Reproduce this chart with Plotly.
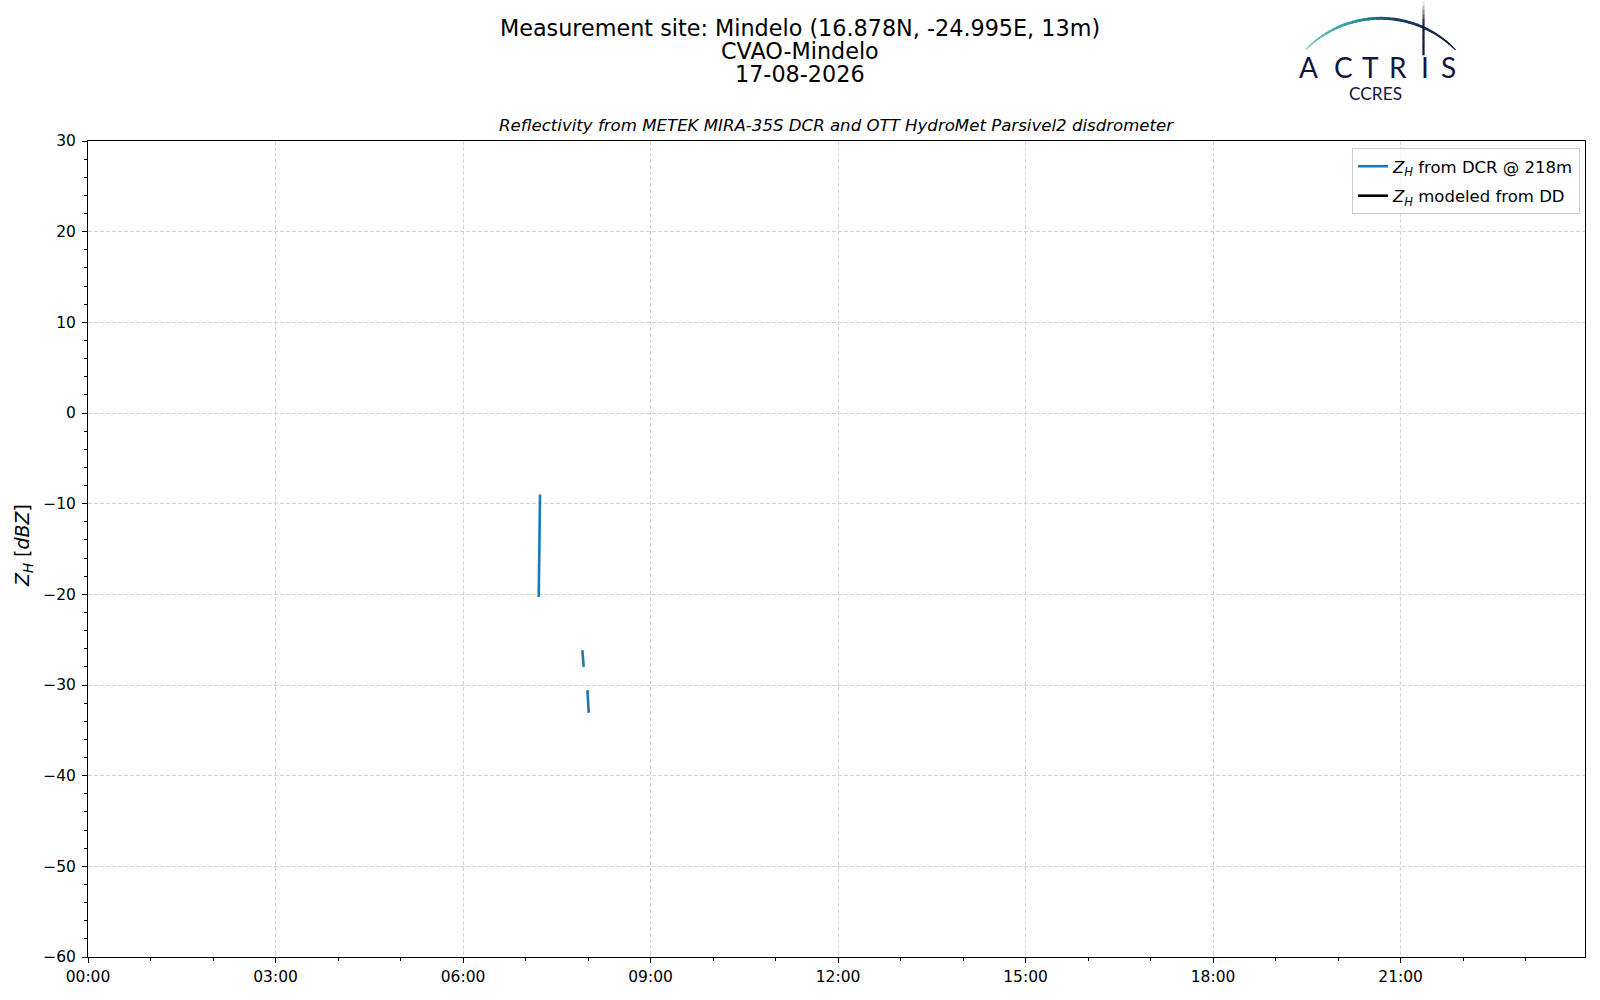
import math
import plotly.graph_objects as go

# ---------------- data ----------------
dcr_times = ["2026-08-17 07:12:40", "2026-08-17 07:13:55", None,
             "2026-08-17 07:54:33", "2026-08-17 07:55:48", None,
             "2026-08-17 07:59:24", "2026-08-17 08:00:40"]
dcr_zh = [-20.3, -9.0, None, -26.15, -28.0, None, -30.56, -33.07]

dd_times = []   # no disdrometer data for this day
dd_zh = []

x_tick_vals = ["2026-08-17 00:00", "2026-08-17 03:00", "2026-08-17 06:00", "2026-08-17 09:00",
               "2026-08-17 12:00", "2026-08-17 15:00", "2026-08-17 18:00", "2026-08-17 21:00"]
x_tick_text = ["00:00", "03:00", "06:00", "09:00", "12:00", "15:00", "18:00", "21:00"]
x_minor_vals = ["2026-08-17 %02d:00" % h for h in range(24)]
x_range = ["2026-08-17 00:00:00", "2026-08-17 23:57:00"]
y_tick_vals = [-60, -50, -40, -30, -20, -10, 0, 10, 20, 30]

title_lines = ["Measurement site: Mindelo (16.878N, -24.995E, 13m)", "CVAO-Mindelo", "17-08-2026"]
subtitle = "Reflectivity from METEK MIRA-35S DCR and OTT HydroMet Parsivel2 disdrometer"

# ---------------- layout geometry ----------------
W, H = 1600, 1000
L, R, T, B = 88, 15, 141, 43
PW, PH = W - L - R, H - T - B


def px(x):
    return (x - L) / PW


def py(y):
    return (H - B - y) / PH


FONT = "DejaVu Sans"

fig = go.Figure()
fig.add_trace(go.Scatter(
    x=dcr_times, y=dcr_zh, mode="lines", connectgaps=False,
    line=dict(color="#1f77b4", width=2.6),
    name="<i>Z</i><sub><i>H</i></sub> from DCR @ 218m", legendgroup="a"))
fig.add_trace(go.Scatter(
    x=dd_times if dd_times else [None], y=dd_zh if dd_zh else [None], mode="lines",
    line=dict(color="black", width=2.6),
    name="<i>Z</i><sub><i>H</i></sub> modeled from DD", legendgroup="b"))

axis_common = dict(
    showline=True, linecolor="black", linewidth=1, mirror=True,
    ticks="outside", ticklen=5, tickwidth=1, tickcolor="black",
    showgrid=True, gridcolor="#d3d3d3", gridwidth=1, griddash="4px,2px",
    zeroline=False, tickfont=dict(family=FONT, size=15.5, color="black"),
)

fig.update_xaxes(
    type="date", range=x_range,
    tickmode="array", tickvals=x_tick_vals, ticktext=x_tick_text,
    minor=dict(tickmode="array", tickvals=x_minor_vals, ticks="outside", ticklen=3,
               tickwidth=1, tickcolor="black", showgrid=False),
    **axis_common)
fig.update_yaxes(
    range=[-60, 30], tickmode="array", tickvals=y_tick_vals, ticklabelstandoff=3,
    minor=dict(dtick=2, ticks="outside", ticklen=3, tickwidth=1, tickcolor="black", showgrid=False),
    **axis_common)

annotations = []
for txt, yc in zip(title_lines, [28.5, 51.0, 74.5]):
    annotations.append(dict(text=txt, xref="paper", yref="paper", x=px(800), y=py(yc),
                            xanchor="center", yanchor="middle", showarrow=False,
                            font=dict(family=FONT, size=22.3, color="black")))
annotations.append(dict(text="<i>" + subtitle + "</i>", xref="paper", yref="paper",
                        x=px((L + W - R) / 2), y=py(125.5), xanchor="center", yanchor="middle",
                        showarrow=False, font=dict(family=FONT, size=16.6, color="black")))
annotations.append(dict(text="<i>Z</i><sub><i>H</i></sub> [<i>dBZ</i>]", xref="paper", yref="paper",
                        x=px(23), y=py(546), xanchor="center", yanchor="middle", textangle=-90,
                        showarrow=False, font=dict(family=FONT, size=19, color="black")))

# logo letters
NAVY = "#14143c"
for ch, xc in zip("ACTRIS", [1308.5, 1343.3, 1370.8, 1397.5, 1424.5, 1448.3]):
    annotations.append(dict(text=ch, xref="paper", yref="paper", x=px(xc), y=py(67),
                            xanchor="center", yanchor="middle", showarrow=False,
                            font=dict(family="Lato", size=28, color=NAVY)))
annotations.append(dict(text="CCRES", xref="paper", yref="paper", x=px(1375.5), y=py(93.5),
                        xanchor="center", yanchor="middle", showarrow=False,
                        font=dict(family="Lato", size=17.3, color=NAVY)))

# logo arc (decoration) with gradient
shapes = []
cx, cy, Rr = 1380.5, 123.3, 105.0
a0 = math.atan2(49.3 - cy, 1306 - cx)
a1 = math.atan2(49.3 - cy, 1455 - cx)
stops = [(0.0, (130, 200, 200)), (0.35, (40, 150, 160)), (0.6, (25, 65, 95)), (1.0, (20, 20, 60))]


def grad(t):
    for (t0, c0), (t1, c1) in zip(stops[:-1], stops[1:]):
        if t <= t1:
            f = (t - t0) / (t1 - t0)
            return "rgb(%d,%d,%d)" % tuple(int(c0[i] + f * (c1[i] - c0[i])) for i in range(3))
    return "rgb(%d,%d,%d)" % stops[-1][1]


N = 40
for i in range(N):
    t0, t1 = i / N, (i + 1) / N
    ang0 = a0 + (a1 - a0) * t0
    ang1 = a0 + (a1 - a0) * (t1 + 0.005)
    x0, y0 = cx + Rr * math.cos(ang0), cy + Rr * math.sin(ang0)
    x1, y1 = cx + Rr * math.cos(ang1), cy + Rr * math.sin(ang1)
    tm = (t0 + t1) / 2
    w = 1.0 + 2.0 * math.sin(math.pi * tm) ** 0.6
    shapes.append(dict(type="line", xref="paper", yref="paper",
                       x0=px(x0), y0=py(y0), x1=px(x1), y1=py(y1),
                       line=dict(color=grad(tm), width=w), layer="above"))
M = 12
for i in range(M):
    ya, yb = 1 + i * 4.5, 1 + (i + 1) * 4.5
    f = min(1.0, (i + 0.5) / 5.0)
    col = "rgb(%d,%d,%d)" % tuple(int(255 + f * (c - 255)) for c in (20, 20, 60))
    shapes.append(dict(type="line", xref="paper", yref="paper",
                       x0=px(1423.5), y0=py(ya), x1=px(1423.5), y1=py(yb + 0.3),
                       line=dict(color=col, width=2.2), layer="above"))

fig.update_layout(
    width=W, height=H, autosize=False,
    margin=dict(l=L, r=R, t=T, b=B, pad=0),
    paper_bgcolor="white", plot_bgcolor="white",
    font=dict(family=FONT, size=15, color="black"),
    showlegend=True,
    legend=dict(x=px(1580), y=py(148), xanchor="right", yanchor="top",
                bgcolor="rgba(255,255,255,0.8)", bordercolor="#cccccc", borderwidth=1,
                font=dict(family=FONT, size=16.5, color="black"),
                traceorder="grouped", tracegroupgap=5, itemwidth=30),
    annotations=annotations,
    shapes=shapes,
)

fig.write_html("out.html", config={"displayModeBar": False},
               post_script="document.body.style.margin='0px';")
